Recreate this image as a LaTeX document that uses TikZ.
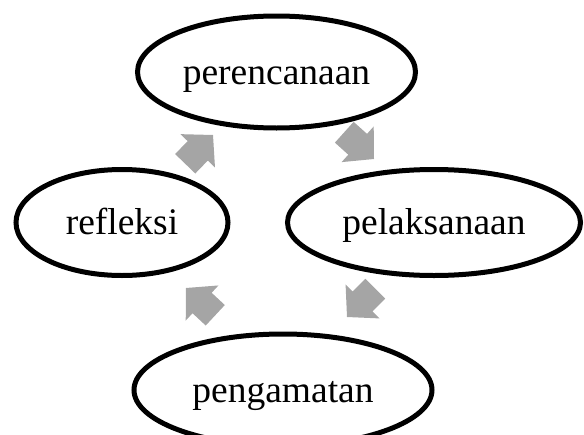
\documentclass[tikz,border=0pt]{standalone}
\usepackage{fontspec}
\setmainfont{Liberation Serif}
\usetikzlibrary{shapes.geometric}
\definecolor{arrowgray}{HTML}{A5A5A5}
\tikzset{
  stage/.style={ellipse, draw=black, line width=5pt, inner sep=0pt,
    font=\fontsize{37.5}{44}\selectfont, text height=30pt, text depth=6pt},
  blockarrow/.pic={\fill[arrowgray] (0,0) -- (-22,24) -- (-22,14) -- (-40,14)
    -- (-40,-14) -- (-22,-14) -- (-22,-24) -- cycle;}
}
\begin{document}
\begin{tikzpicture}[x=1pt,y=-1pt]
\useasboundingbox (0,0) rectangle (584,434);
\node[stage, minimum width=278pt, minimum height=112pt] (plan) at (276.5,72) {perencanaan};
\node[stage, minimum width=212pt, minimum height=106pt] (refl) at (122,222.5) {refleksi};
\node[stage, minimum width=293pt, minimum height=106pt] (pelak) at (434,222.5) {pelaksanaan};
\node[stage, minimum width=298pt, minimum height=112pt] (peng) at (283,390) {pengamatan};
\pic[rotate=46] at (213,135) {blockarrow};
\pic[rotate=-42] at (374,159) {blockarrow};
\pic[rotate=-135] at (347,317) {blockarrow};
\pic[rotate=137] at (186,288) {blockarrow};
\end{tikzpicture}
\end{document}
